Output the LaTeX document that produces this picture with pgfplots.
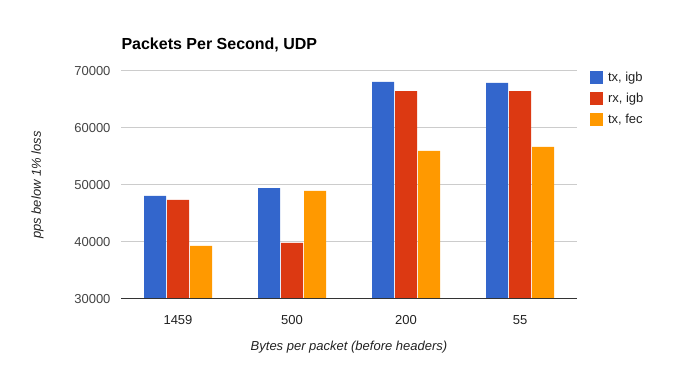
\documentclass[border=0pt]{standalone}
\usepackage{fontspec}
\setmainfont{Liberation Sans}
\usepackage{pgfplots}
\pgfplotsset{compat=1.18}
\definecolor{cblue}{HTML}{3366CC}
\definecolor{cred}{HTML}{DC3912}
\definecolor{corange}{HTML}{FF9900}
\definecolor{cgrid}{HTML}{CCCCCC}
\definecolor{ctick}{HTML}{444444}
\definecolor{clabel}{HTML}{222222}
\begin{document}
\begin{tikzpicture}
\path[use as bounding box] (0,0) rectangle (698pt,371pt);
\begin{axis}[
  at={(121pt,72pt)}, anchor=south west,
  scale only axis, width=456pt, height=228pt,
  ymin=30000, ymax=70000, ytick={30000,40000,50000,60000,70000},
  scaled y ticks=false,
  xmin=-0.5, xmax=3.5, xtick={0,1,2,3}, xticklabels={1459,500,200,55},
  ybar=1pt, bar width=22pt,
  axis line style={draw=none},
  tick style={draw=none}, major tick length=0pt,
  ymajorgrids, grid style={draw=cgrid, line width=1pt},
  /pgf/number format/1000 sep={},
  /pgf/number format/assume math mode=true,
  yticklabel style={font=\fontsize{13}{15}\selectfont, text=ctick, xshift=-7pt},
  xticklabel style={font=\fontsize{13}{15}\selectfont, text=clabel, yshift=-13pt},
  ylabel={pps below 1\% loss},
  ylabel style={at={(axis description cs:-0.183,0.5)}, anchor=center, font=\fontsize{13}{15}\selectfont\itshape, text=clabel},
  xlabel={Bytes per packet (before headers)},
  xlabel style={at={(axis description cs:0.5,-0.2105)}, anchor=center, font=\fontsize{13}{15}\selectfont\itshape, text=clabel},
  title={Packets Per Second, UDP},
  title style={at={(axis description cs:0,1)}, anchor=base west, yshift=15.5pt, xshift=-3pt, font=\fontsize{16}{18}\selectfont\bfseries},
  legend style={draw=none, fill=none, inner sep=0pt, outer sep=0pt, anchor=north west,
    at={(axis description cs:1.0285,1.0)}, row sep=8pt, column sep=0pt,
    font=\fontsize{13}{15}\selectfont, text=clabel,
    nodes={inner sep=0pt, anchor=west},
    /tikz/every odd column/.append style={column sep=5pt}},
  legend cell align=left,
  legend image code/.code={\fill[#1,draw=none] (0pt,-6.5pt) rectangle (13pt,6.5pt);},
]
\addplot[fill=cblue, draw=none] coordinates {(0,48070) (1,49470) (2,68070) (3,67900)};
\addplot[fill=cred, draw=none] coordinates {(0,47370) (1,39830) (2,66490) (3,66490)};
\addplot[fill=corange, draw=none] coordinates {(0,39300) (1,48950) (2,55970) (3,56670)};
\legend{{tx, igb}, {rx, igb}, {tx, fec}}
\draw[draw=black!80, line width=1pt] (axis cs:-0.5,30000) -- (axis cs:3.5,30000);
\end{axis}
\end{tikzpicture}
\end{document}
